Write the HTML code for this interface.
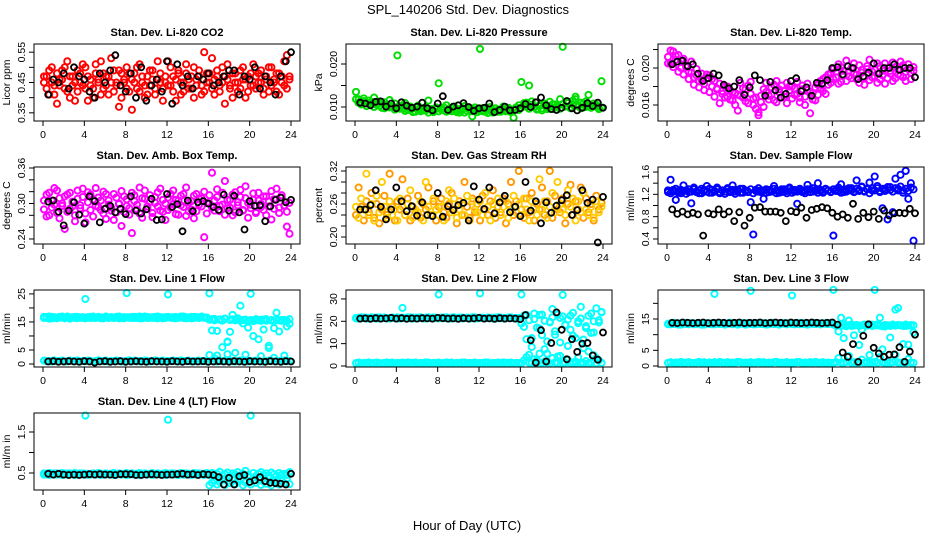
<!DOCTYPE html>
<html><head><meta charset="utf-8"><style>
html,body{margin:0;padding:0;background:#fff;}
svg{display:block;font-family:"Liberation Sans",Arial,sans-serif;}
</style></head><body>
<svg id="chart" width="936" height="540" viewBox="0 0 936 540">
<text x="468" y="14" text-anchor="middle" font-size="13">SPL_140206  Std. Dev. Diagnostics</text>
<text x="467" y="530" text-anchor="middle" font-size="13">Hour of Day (UTC)</text>
</svg>
<script>
// ---- data arrays ----
const co2Red1=[0.45,0.47,0.41,0.50,0.44,0.38,0.46,0.49,0.43,0.52,0.40,0.47,0.45,0.42,0.48,0.44,0.50,0.39,0.46,0.43,0.51,0.45,0.41,0.48,0.44,0.47,0.53,0.42,0.45,0.49,0.40,0.46,0.43,0.48,0.36,0.45,0.50,0.42,0.47,0.44,0.41,0.49,0.46,0.43,0.52,0.45,0.39,0.47,0.44,0.50,0.42,0.46,0.48,0.41,0.45,0.51,0.43,0.47,0.40,0.46,0.49,0.44,0.42,0.48,0.45,0.53,0.41,0.47,0.44,0.50,0.38,0.46,0.43,0.48,0.45,0.42,0.49,0.46,0.40,0.47,0.44,0.51,0.43,0.48,0.45,0.41,0.47,0.50,0.44,0.46,0.42,0.48,0.45,0.52,0.43,0.47];
const co2Red2=[0.47,0.43,0.49,0.45,0.41,0.48,0.44,0.46,0.50,0.42,0.47,0.44,0.39,0.49,0.45,0.51,0.43,0.47,0.44,0.40,0.48,0.46,0.52,0.43,0.47,0.41,0.45,0.49,0.44,0.37,0.48,0.45,0.50,0.42,0.46,0.48,0.43,0.51,0.45,0.40,0.47,0.44,0.49,0.41,0.46,0.48,0.43,0.45,0.52,0.44,0.47,0.39,0.49,0.45,0.42,0.48,0.46,0.43,0.50,0.44,0.47,0.41,0.55,0.45,0.48,0.43,0.46,0.49,0.42,0.45,0.47,0.51,0.44,0.40,0.48,0.45,0.43,0.50,0.46,0.42,0.48,0.44,0.47,0.45,0.49,0.43,0.46,0.42,0.50,0.45,0.48,0.41,0.47,0.44,0.54,0.46];
const co2Black=[0.41,0.46,0.45,0.48,0.43,0.50,0.47,0.46,0.42,0.40,0.48,0.45,0.49,0.54,0.44,0.42,0.48,0.40,0.50,0.39,0.44,0.46,0.42,0.52,0.38,0.51,0.44,0.47,0.43,0.47,0.46,0.48,0.44,0.45,0.47,0.49,0.49,0.41,0.47,0.46,0.50,0.43,0.47,0.45,0.41,0.47,0.52,0.55];
const presGreen=[0.0135,0.0118,0.0112,0.0120,0.0108,0.0115,0.0110,0.0122,0.0105,0.0113,0.0098,0.0111,0.0104,0.0116,0.0100,0.0108,0.0220,0.0102,0.0096,0.0109,0.0093,0.0101,0.0097,0.0089,0.0103,0.0095,0.0092,0.0100,0.0115,0.0094,0.0088,0.0099,0.0155,0.0098,0.0092,0.0104,0.0096,0.0090,0.0101,0.0093,0.0087,0.0097,0.0102,0.0091,0.0095,0.0078,0.0099,0.0093,0.0235,0.0090,0.0096,0.0086,0.0100,0.0092,0.0097,0.0089,0.0094,0.0101,0.0090,0.0096,0.0088,0.0075,0.0098,0.0093,0.0158,0.0105,0.0110,0.0150,0.0113,0.0101,0.0096,0.0104,0.0092,0.0108,0.0099,0.0112,0.0095,0.0106,0.0101,0.0118,0.0240,0.0102,0.0109,0.0097,0.0115,0.0124,0.0104,0.0110,0.0099,0.0113,0.0128,0.0101,0.0108,0.0105,0.0097,0.0160];
const presGreen2=[0.0118,0.0110,0.0106,0.0114,0.0102,0.0109,0.0112,0.0100,0.0107,0.0103,0.0110,0.0097,0.0105,0.0099,0.0102,0.0094,0.0100,0.0096,0.0104,0.0091,0.0098,0.0094,0.0088,0.0099,0.0093,0.0090,0.0097,0.0092,0.0087,0.0095,0.0091,0.0096,0.0090,0.0094,0.0099,0.0089,0.0093,0.0097,0.0091,0.0088,0.0095,0.0092,0.0087,0.0098,0.0093,0.0090,0.0094,0.0088,0.0092,0.0097,0.0089,0.0094,0.0091,0.0087,0.0096,0.0093,0.0089,0.0095,0.0092,0.0098,0.0090,0.0094,0.0099,0.0104,0.0098,0.0109,0.0101,0.0096,0.0105,0.0099,0.0094,0.0102,0.0097,0.0103,0.0095,0.0100,0.0106,0.0098,0.0104,0.0096,0.0107,0.0101,0.0112,0.0099,0.0105,0.0118,0.0102,0.0097,0.0108,0.0100,0.0106,0.0098,0.0103,0.0101,0.0095,0.0099];
const presBlack=[0.0110,0.0108,0.0104,0.0112,0.0113,0.0101,0.0108,0.0097,0.0111,0.0103,0.0098,0.0101,0.0110,0.0097,0.0092,0.0108,0.0125,0.0093,0.0101,0.0104,0.0109,0.0100,0.0091,0.0097,0.0098,0.0108,0.0088,0.0093,0.0101,0.0092,0.0093,0.0097,0.0107,0.0100,0.0111,0.0122,0.0104,0.0095,0.0093,0.0098,0.0114,0.0097,0.0092,0.0098,0.0109,0.0102,0.0110,0.0098];
const tempMag1=[0.0212,0.0205,0.0218,0.0209,0.0214,0.0200,0.0210,0.0203,0.0196,0.0207,0.0190,0.0199,0.0186,0.0194,0.0183,0.0189,0.0192,0.0180,0.0186,0.0177,0.0183,0.0172,0.0180,0.0169,0.0176,0.0165,0.0173,0.0154,0.0170,0.0178,0.0164,0.0181,0.0172,0.0160,0.0168,0.0152,0.0163,0.0177,0.0184,0.0170,0.0179,0.0165,0.0186,0.0174,0.0181,0.0169,0.0184,0.0176,0.0180,0.0171,0.0185,0.0168,0.0177,0.0160,0.0183,0.0174,0.0166,0.0179,0.0171,0.0186,0.0175,0.0190,0.0182,0.0195,0.0188,0.0196,0.0183,0.0201,0.0192,0.0186,0.0197,0.0189,0.0205,0.0193,0.0184,0.0198,0.0190,0.0202,0.0187,0.0196,0.0191,0.0205,0.0188,0.0197,0.0183,0.0200,0.0194,0.0206,0.0189,0.0198,0.0192,0.0203,0.0186,0.0199,0.0195,0.0201];
const tempMag2=[0.0205,0.0219,0.0201,0.0213,0.0196,0.0208,0.0193,0.0201,0.0188,0.0195,0.0182,0.0192,0.0179,0.0187,0.0176,0.0193,0.0174,0.0188,0.0169,0.0178,0.0162,0.0175,0.0168,0.0180,0.0166,0.0174,0.0160,0.0171,0.0184,0.0168,0.0177,0.0162,0.0185,0.0167,0.0156,0.0149,0.0170,0.0158,0.0174,0.0166,0.0171,0.0182,0.0163,0.0177,0.0168,0.0175,0.0162,0.0180,0.0167,0.0178,0.0172,0.0163,0.0181,0.0169,0.0176,0.0151,0.0173,0.0165,0.0182,0.0178,0.0188,0.0172,0.0193,0.0184,0.0199,0.0190,0.0204,0.0185,0.0197,0.0208,0.0191,0.0200,0.0194,0.0188,0.0203,0.0195,0.0182,0.0199,0.0209,0.0190,0.0198,0.0184,0.0202,0.0192,0.0205,0.0189,0.0197,0.0186,0.0201,0.0193,0.0207,0.0190,0.0196,0.0204,0.0188,0.0197];
const tempBlack=[0.0204,0.0207,0.0208,0.0202,0.0204,0.0194,0.0186,0.0189,0.0194,0.0192,0.0182,0.0178,0.0180,0.0187,0.0171,0.0179,0.0192,0.0187,0.0170,0.0185,0.0176,0.0168,0.0172,0.0186,0.0189,0.0175,0.0179,0.0170,0.0184,0.0183,0.0187,0.0200,0.0201,0.0193,0.0202,0.0200,0.0188,0.0191,0.0195,0.0205,0.0194,0.0200,0.0200,0.0204,0.0198,0.0200,0.0200,0.0190];
const ambMag1=[0.290,0.315,0.280,0.305,0.298,0.322,0.275,0.300,0.312,0.286,0.318,0.295,0.270,0.308,0.292,0.325,0.283,0.302,0.315,0.278,0.296,0.310,0.289,0.320,0.274,0.305,0.293,0.316,0.285,0.300,0.262,0.312,0.296,0.281,0.318,0.304,0.290,0.327,0.276,0.308,0.295,0.314,0.284,0.301,0.319,0.288,0.306,0.272,0.310,0.293,0.322,0.282,0.305,0.297,0.316,0.279,0.302,0.290,0.313,0.287,0.308,0.295,0.320,0.283,0.300,0.352,0.288,0.311,0.296,0.318,0.281,0.306,0.293,0.315,0.285,0.302,0.323,0.289,0.309,0.276,0.298,0.317,0.286,0.305,0.294,0.312,0.280,0.303,0.321,0.291,0.307,0.284,0.314,0.296,0.261,0.301];
const ambMag2=[0.305,0.278,0.318,0.293,0.326,0.284,0.309,0.296,0.257,0.315,0.291,0.303,0.280,0.322,0.297,0.311,0.268,0.319,0.289,0.307,0.326,0.294,0.305,0.283,0.316,0.298,0.288,0.272,0.310,0.299,0.321,0.286,0.307,0.292,0.250,0.314,0.298,0.283,0.309,0.322,0.291,0.303,0.277,0.311,0.295,0.325,0.286,0.300,0.289,0.316,0.299,0.306,0.281,0.313,0.294,0.327,0.287,0.304,0.275,0.316,0.298,0.309,0.243,0.301,0.314,0.293,0.305,0.324,0.287,0.298,0.338,0.292,0.306,0.280,0.319,0.297,0.311,0.288,0.329,0.301,0.292,0.306,0.284,0.318,0.299,0.289,0.312,0.295,0.273,0.307,0.325,0.293,0.310,0.297,0.286,0.249];
const ambBlack=[0.303,0.305,0.286,0.263,0.288,0.302,0.281,0.266,0.312,0.304,0.268,0.291,0.296,0.285,0.291,0.282,0.312,0.288,0.283,0.290,0.308,0.272,0.273,0.316,0.294,0.299,0.253,0.305,0.287,0.302,0.304,0.300,0.294,0.289,0.315,0.288,0.313,0.285,0.256,0.304,0.296,0.297,0.270,0.295,0.306,0.310,0.302,0.306];
const rhOrange1=[0.240,0.290,0.255,0.230,0.265,0.245,0.280,0.235,0.260,0.225,0.250,0.275,0.240,0.315,0.255,0.230,0.265,0.250,0.305,0.240,0.270,0.230,0.255,0.245,0.275,0.235,0.260,0.250,0.290,0.240,0.265,0.230,0.255,0.270,0.245,0.235,0.260,0.280,0.250,0.225,0.265,0.240,0.300,0.255,0.235,0.270,0.245,0.260,0.230,0.275,0.250,0.240,0.265,0.285,0.235,0.255,0.245,0.270,0.225,0.260,0.300,0.240,0.265,0.320,0.250,0.235,0.270,0.245,0.280,0.230,0.260,0.250,0.290,0.240,0.265,0.320,0.235,0.275,0.250,0.245,0.270,0.225,0.260,0.295,0.240,0.265,0.250,0.290,0.235,0.270,0.245,0.260,0.230,0.275,0.250,0.262];
const rhOrange2=[0.255,0.235,0.270,0.250,0.315,0.240,0.260,0.230,0.275,0.245,0.300,0.255,0.235,0.265,0.240,0.250,0.230,0.270,0.255,0.240,0.260,0.285,0.235,0.250,0.245,0.265,0.230,0.300,0.255,0.240,0.270,0.250,0.240,0.255,0.230,0.265,0.285,0.245,0.270,0.235,0.250,0.260,0.240,0.275,0.230,0.265,0.250,0.245,0.265,0.240,0.280,0.255,0.230,0.260,0.245,0.270,0.240,0.255,0.265,0.235,0.250,0.275,0.245,0.260,0.240,0.270,0.250,0.230,0.265,0.255,0.240,0.305,0.250,0.265,0.235,0.255,0.280,0.245,0.300,0.260,0.250,0.240,0.285,0.255,0.270,0.230,0.265,0.245,0.280,0.250,0.240,0.255,0.235,0.265,0.245,0.255];
const rhBlack=[0.250,0.250,0.258,0.285,0.255,0.232,0.250,0.290,0.265,0.247,0.256,0.239,0.263,0.240,0.238,0.280,0.237,0.256,0.249,0.258,0.262,0.230,0.292,0.268,0.251,0.290,0.243,0.263,0.275,0.245,0.255,0.238,0.300,0.248,0.265,0.225,0.263,0.244,0.257,0.267,0.276,0.240,0.249,0.285,0.262,0.268,0.190,0.273];
const flowBlue1=[1.24,1.46,1.28,1.10,1.26,1.22,1.36,1.27,1.24,1.04,1.29,1.25,1.22,1.30,1.26,1.35,1.23,1.28,1.25,1.32,1.24,1.27,1.21,1.29,1.26,1.36,1.25,1.28,1.23,1.30,1.26,1.24,1.06,0.48,1.28,1.25,1.27,1.12,1.29,1.24,1.26,1.35,1.27,1.23,1.29,1.26,1.22,1.30,1.27,1.25,1.03,1.28,1.24,1.26,1.37,1.29,1.25,1.27,1.40,1.26,1.23,1.29,1.27,1.25,0.46,1.28,1.26,1.38,1.24,1.29,1.27,1.31,1.25,1.45,1.28,1.34,1.26,1.30,1.41,1.27,1.52,1.31,1.26,0.95,1.29,0.75,1.33,0.88,1.48,1.30,1.55,1.27,1.62,1.12,1.40,0.37];
const flowBlue2=[1.27,1.22,1.25,1.30,1.23,1.28,1.26,1.21,1.29,1.25,1.32,1.24,1.27,1.22,1.28,1.25,1.30,1.23,1.26,1.29,1.22,1.27,1.25,1.31,1.24,1.28,1.21,1.26,1.30,1.23,1.27,1.25,1.29,1.22,1.26,1.31,1.24,1.27,1.23,1.28,1.25,1.30,1.22,1.27,1.24,1.29,1.26,1.32,1.23,1.28,1.25,1.30,1.27,1.22,1.29,1.24,1.31,1.26,1.23,1.28,1.25,1.30,1.27,1.24,1.29,1.26,1.32,1.23,1.28,1.25,1.31,1.27,1.24,1.30,1.26,1.33,1.25,1.29,1.22,1.31,1.27,1.35,1.24,1.30,1.26,1.33,1.28,1.25,1.31,1.27,1.34,1.23,1.30,1.26,1.32,1.29];
const flowBlack=[0.93,0.85,0.89,0.84,0.87,0.84,0.46,0.86,0.84,0.93,0.84,0.89,0.72,0.88,0.64,0.78,0.96,0.97,0.89,0.89,0.89,0.87,0.72,0.90,0.88,0.96,0.78,0.92,0.94,0.97,0.95,0.87,0.80,0.84,0.78,1.03,0.76,0.87,0.79,0.89,0.76,0.91,0.82,0.86,0.87,0.86,0.94,0.86];
const line1Hi=[16.8,16.5,16.9,16.3,16.7,16.4,16.8,16.6,16.3,16.9,16.5,16.7,16.4,16.8,16.6,16.5,23.2,16.7,16.4,16.9,16.5,16.8,16.3,16.6,16.9,16.4,16.7,16.5,16.8,16.3,16.6,16.7,25.3,16.5,16.8,16.4,16.7,16.9,16.3,16.6,16.8,16.5,16.7,16.4,16.9,16.6,16.3,16.7,24.8,16.6,16.4,16.8,16.5,16.7,16.9,16.3,16.6,16.8,16.4,16.7,16.5,16.9,16.6,16.4,25.2,12.0,16.1,3.0,15.8,6.0,16.2,8.0,11.5,15.9,4.0,16.3,20.8,15.7,3.3,13.0,25.0,10.0,15.6,8.8,15.8,12.3,16.0,5.7,15.5,12.8,18.3,11.6,15.7,3.0,13.4,14.3];
const line1Hi2=[16.4,16.7,16.2,16.8,16.5,16.3,16.6,16.9,16.4,16.7,16.2,16.6,16.8,16.4,16.5,16.7,16.3,16.6,16.8,16.5,16.4,16.7,16.6,16.3,16.8,16.5,16.7,16.4,16.6,16.9,16.5,16.3,16.7,16.6,16.4,16.8,16.5,16.3,16.7,16.9,16.4,16.6,16.5,16.8,16.3,16.7,16.6,16.4,16.8,16.5,16.7,16.3,16.6,16.9,16.4,16.7,16.5,16.3,16.8,16.6,16.4,16.7,16.5,16.6,15.8,16.0,15.6,11.8,15.9,15.5,16.1,7.8,15.7,17.5,15.6,16.0,15.4,14.5,15.8,15.5,15.7,15.3,16.0,15.6,15.4,15.8,15.5,6.5,15.7,15.2,15.9,15.6,15.4,15.7,15.5,16.0];
const line1Lo=[1.2,1.0,1.1,0.9,1.3,1.0,1.1,1.2,0.9,1.0,1.2,1.1,1.0,1.3,0.9,1.1,1.0,1.2,1.1,0.9,1.0,1.3,1.1,1.0,1.2,0.9,1.1,1.0,1.2,1.1,0.9,1.0,1.1,1.3,1.0,1.2,0.9,1.1,1.0,1.2,1.1,0.9,1.0,1.3,1.1,1.0,1.2,0.9,1.1,1.0,1.2,1.1,0.9,1.3,1.0,1.1,1.2,0.9,1.0,1.1,1.2,1.0,1.1,0.9,3.2,1.1,2.0,0.9,1.2,1.0,1.1,3.5,1.2,1.0,0.9,1.1,1.3,1.0,1.2,0.9,1.1,1.0,1.2,1.1,2.8,0.9,1.0,1.2,1.1,2.2,1.0,1.1,0.9,1.2,1.0,1.1];
const line1Black=[0.9,1.0,0.8,0.9,1.0,0.9,0.8,1.0,0.9,0.5,0.9,1.0,0.8,0.9,1.0,0.8,0.9,1.0,0.9,0.8,1.0,0.9,0.9,0.8,1.0,0.9,0.8,1.0,0.9,0.9,1.0,0.8,0.9,1.0,0.9,0.8,1.0,0.9,0.8,1.0,0.9,0.9,0.8,1.0,0.9,0.8,1.0,0.9];
const line2Hi=[21.5,21.2,21.8,21.4,21.6,21.3,21.7,21.5,21.2,21.8,21.4,21.6,21.3,21.5,21.7,21.4,21.6,21.2,26.0,21.5,21.8,21.3,21.6,21.4,21.7,21.5,21.2,21.6,21.8,21.4,21.3,21.6,32.0,21.5,21.7,21.4,21.2,21.6,21.8,21.3,21.5,21.7,21.4,21.6,21.2,21.5,21.8,21.3,32.5,21.6,21.4,21.7,21.5,21.2,21.6,21.8,21.4,21.3,21.5,21.7,21.6,21.4,21.2,21.5,32.0,17.5,22.8,5.0,12.5,21.0,2.5,16.8,23.0,7.5,11.0,19.5,25.5,14.0,4.2,21.5,31.8,18.2,9.0,22.5,13.5,2.0,20.0,26.5,11.8,17.0,6.5,23.5,15.0,3.5,20.5,24.0];
const line2Hi2=[21.3,21.6,21.4,21.7,21.2,21.5,21.8,21.4,21.6,21.3,21.5,21.7,21.4,21.2,21.6,21.5,21.8,21.3,21.6,21.4,21.5,21.7,21.2,21.6,21.4,21.8,21.5,21.3,21.6,21.4,21.7,21.5,21.3,21.6,21.4,21.8,21.5,21.2,21.6,21.4,21.7,21.3,21.5,21.6,21.4,21.8,21.2,21.5,21.6,21.4,21.3,21.7,21.5,21.6,21.2,21.4,21.7,21.5,21.3,21.6,21.8,21.4,21.5,21.3,19.0,22.5,12.0,20.5,8.5,23.5,17.2,22.8,13.8,20.2,5.5,19.8,21.8,15.5,23.0,10.5,22.2,18.5,20.8,16.2,23.8,12.5,19.2,21.2,8.0,17.8,22.5,14.8,20.0,25.8,19.5,24.2];
const line2Lo=[1.3,1.5,1.2,1.4,1.3,1.6,1.2,1.4,1.5,1.3,1.2,1.4,1.6,1.3,1.5,1.2,1.4,1.3,1.5,1.2,1.6,1.4,1.3,1.5,1.2,1.4,1.3,1.6,1.5,1.2,1.4,1.3,1.5,1.2,1.4,1.6,1.3,1.5,1.2,1.4,1.3,1.5,1.6,1.2,1.4,1.3,1.5,1.2,1.4,1.3,1.6,1.5,1.2,1.4,1.3,1.5,1.2,1.6,1.4,1.3,1.5,1.2,1.4,1.3,1.2,2.5,4.0,1.5,1.3,3.0,1.2,5.5,1.4,2.0,1.3,1.2,3.5,1.5,1.3,4.5,1.2,1.4,2.8,1.3,1.5,1.2,3.8,1.4,1.3,2.2,1.2,1.5,4.8,1.3,2.5,1.4];
const line2Black=[21.2,21.3,21.1,21.4,21.2,21.3,21.5,21.2,21.4,21.1,21.3,21.2,21.4,21.3,21.2,21.5,21.4,21.2,21.3,21.1,21.4,21.2,21.3,21.5,21.2,21.3,21.1,21.4,21.2,21.3,21.2,21.0,22.8,11.5,1.5,16.0,2.0,10.3,24.0,16.2,3.0,12.0,6.3,10.0,10.3,4.7,2.8,15.0];
const line3Hi=[13.5,13.3,13.7,13.4,13.6,13.2,13.5,13.8,13.4,13.6,13.3,13.5,13.7,13.4,13.2,13.6,13.5,13.3,23.0,13.7,13.4,13.6,13.3,13.5,13.8,13.4,13.6,13.2,13.5,13.7,13.4,13.6,24.0,13.3,13.5,13.7,13.4,13.6,13.2,13.5,13.8,13.4,13.6,13.3,13.5,13.7,13.4,13.6,22.5,13.3,13.5,13.7,13.4,13.6,13.2,13.5,13.8,13.4,13.6,13.3,13.5,13.7,13.4,13.6,24.3,13.0,11.0,15.4,8.9,13.0,14.5,12.8,9.8,13.1,6.7,11.6,13.0,12.9,3.5,13.2,24.3,13.0,15.4,5.3,12.6,13.0,9.1,13.0,18.0,18.5,13.0,7.0,12.8,6.8,13.0,10.7];
const line3Hi2=[13.3,13.6,13.4,13.7,13.2,13.5,13.6,13.4,13.3,13.7,13.5,13.4,13.6,13.2,13.5,13.7,13.4,13.6,13.3,13.5,13.7,13.4,13.2,13.6,13.5,13.3,13.7,13.4,13.6,13.5,13.2,13.7,13.4,13.6,13.3,13.5,13.8,13.4,13.6,13.3,13.5,13.4,13.7,13.2,13.6,13.5,13.3,13.7,13.4,13.6,13.5,13.3,13.7,13.4,13.2,13.6,13.5,13.4,13.7,13.3,13.6,13.5,13.4,13.7,13.2,12.9,13.1,12.8,13.3,12.7,13.0,13.2,12.9,13.1,12.8,13.0,13.2,12.9,13.1,12.8,13.0,13.2,12.9,12.7,13.1,13.0,12.8,13.2,12.9,13.1,13.0,12.8,13.2,12.9,13.1,13.0];
const line3Lo=[1.0,1.2,0.9,1.1,1.0,1.3,0.9,1.1,1.2,1.0,0.9,1.1,1.3,1.0,1.2,0.9,1.1,1.0,1.2,0.9,1.3,1.1,1.0,1.2,0.9,1.1,1.0,1.3,1.2,0.9,1.1,1.0,1.2,0.9,1.1,1.3,1.0,1.2,0.9,1.1,1.0,1.2,1.3,0.9,1.1,1.0,1.2,0.9,1.1,1.0,1.3,1.2,0.9,1.1,1.0,1.2,0.9,1.3,1.1,1.0,1.2,0.9,1.1,1.0,1.0,1.2,2.5,1.1,0.9,1.3,3.2,1.0,1.2,0.9,1.1,2.0,1.0,1.2,0.9,1.1,1.3,1.0,2.8,1.2,0.9,1.1,1.0,1.2,3.5,1.1,0.9,1.2,1.0,2.2,1.1,1.0];
const line3Black=[13.8,13.7,13.9,13.8,13.7,13.8,13.9,13.7,13.8,13.9,13.8,13.7,13.8,13.9,13.7,13.8,13.8,13.9,13.7,13.8,13.9,13.8,13.7,13.9,13.8,13.7,13.8,13.9,13.8,13.7,13.8,13.9,13.2,4.3,2.9,7.0,1.3,9.6,13.3,5.8,4.0,2.9,3.6,3.7,6.0,1.3,4.6,10.0];
const line4Hi=[0.49,0.47,0.50,0.48,0.46,0.49,0.47,0.50,0.48,0.46,0.49,0.47,0.50,0.48,0.47,0.49,1.90,0.48,0.46,0.49,0.47,0.50,0.48,0.46,0.49,0.47,0.48,0.50,0.46,0.49,0.47,0.48,0.50,0.46,0.49,0.47,0.48,0.50,0.46,0.49,0.47,0.48,0.50,0.46,0.49,0.47,0.48,0.50,1.80,0.46,0.49,0.47,0.48,0.50,0.46,0.49,0.47,0.48,0.50,0.46,0.49,0.47,0.48,0.50,0.45,0.50,0.42,0.48,0.53,0.44,0.47,0.51,0.43,0.49,0.46,0.52,0.44,0.48,0.55,0.45,1.90,0.50,0.43,0.48,0.52,0.45,0.49,0.44,0.51,0.47,0.43,0.50,0.46,0.48,0.45,0.52];
const line4Lo=[0.46,0.48,0.45,0.47,0.49,0.46,0.48,0.45,0.47,0.49,0.46,0.48,0.45,0.47,0.49,0.46,0.48,0.45,0.47,0.49,0.46,0.48,0.45,0.47,0.49,0.46,0.48,0.45,0.47,0.49,0.46,0.48,0.45,0.47,0.49,0.46,0.48,0.45,0.47,0.49,0.46,0.48,0.45,0.47,0.49,0.46,0.48,0.45,0.47,0.49,0.46,0.48,0.45,0.47,0.49,0.46,0.48,0.45,0.47,0.49,0.46,0.48,0.45,0.47,0.20,0.26,0.32,0.22,0.28,0.36,0.21,0.30,0.25,0.38,0.23,0.29,0.34,0.20,0.27,0.40,0.22,0.31,0.26,0.35,0.21,0.29,0.24,0.37,0.20,0.28,0.33,0.22,0.30,0.25,0.36,0.23];
const line4Black=[0.48,0.46,0.48,0.46,0.45,0.46,0.45,0.46,0.47,0.46,0.47,0.46,0.46,0.45,0.47,0.47,0.47,0.45,0.45,0.46,0.47,0.46,0.45,0.46,0.46,0.47,0.48,0.46,0.47,0.45,0.47,0.46,0.45,0.40,0.22,0.38,0.22,0.42,0.45,0.28,0.32,0.40,0.30,0.26,0.25,0.24,0.22,0.48];
const xTicks=[0,4,8,12,16,20,24];

// ---- layout ----
const colX0=[43,355,667], colX24=[291,603,915];
const rowTop=[44,167,290,413], rowBot=[121,244,367,490];
const NS='http://www.w3.org/2000/svg';
const svg=document.getElementById('chart');
function mk(tag,attrs,parent){const e=document.createElementNS(NS,tag);for(const k in attrs)e.setAttribute(k,attrs[k]);(parent||svg).appendChild(e);return e;}
const panels=[
 {name:'co2',title:'Stan. Dev. Li-820 CO2',ylab:'Licor ppm',c:0,r:0,y0:0.323,y1:0.577,ticks:[0.35,0.40,0.45,0.50,0.55],labs:[0.35,0.45,0.55],dig:2,ser:[[co2Red1,'#ff0000'],[co2Red2,'#ff0000']],blk:co2Black},
 {name:'pressure',title:'Stan. Dev. Li-820 Pressure',ylab:'kPa',c:1,r:0,y0:0.00674,y1:0.02465,ticks:[0.010,0.015,0.020],labs:[0.010,0.020],dig:3,ser:[[presGreen,'#00dd00'],[presGreen2,'#00dd00']],blk:presBlack},
 {name:'li820-temp',title:'Stan. Dev. Li-820 Temp.',ylab:'degrees C',c:2,r:0,y0:0.01427,y1:0.0226,ticks:[0.016,0.018,0.020,0.022],labs:[0.016,0.020],dig:3,ser:[[tempMag1,'#ff00ff'],[tempMag2,'#ff00ff']],blk:tempBlack},
 {name:'amb-box-temp',title:'Stan. Dev. Amb. Box Temp.',ylab:'degrees C',c:0,r:1,y0:0.2315,y1:0.3617,ticks:[0.24,0.26,0.28,0.30,0.32,0.34,0.36],labs:[0.24,0.30,0.36],dig:2,ser:[[ambMag1,'#ff00ff'],[ambMag2,'#ff00ff']],blk:ambBlack},
 {name:'gas-stream-rh',title:'Stan. Dev. Gas Stream RH',ylab:'percent',c:1,r:1,y0:0.1873,y1:0.3273,ticks:[0.20,0.22,0.24,0.26,0.28,0.30,0.32],labs:[0.20,0.26,0.32],dig:2,ser:[[rhOrange1,'#ff9900'],[rhOrange2,'#ffcc00']],blk:rhBlack},
 {name:'sample-flow',title:'Stan. Dev. Sample Flow',ylab:'ml/min',c:2,r:1,y0:0.31,y1:1.69,ticks:[0.4,0.6,0.8,1.0,1.2,1.4,1.6],labs:[0.4,0.8,1.2,1.6],dig:1,ser:[[flowBlue1,'#0000ff'],[flowBlue2,'#0000ff']],blk:flowBlack},
 {name:'line1-flow',title:'Stan. Dev. Line 1 Flow',ylab:'ml/min',c:0,r:2,y0:-1.07,y1:26.4,ticks:[0,5,10,15,20,25],labs:[0,5,15,25],dig:0,ser:[[line1Hi,'#00ffff'],[line1Hi2,'#00ffff'],[line1Lo,'#00ffff']],blk:line1Black},
 {name:'line2-flow',title:'Stan. Dev. Line 2 Flow',ylab:'ml/min',c:1,r:2,y0:-0.45,y1:34.0,ticks:[0,10,20,30],labs:[0,10,20,30],dig:0,ser:[[line2Hi,'#00ffff'],[line2Hi2,'#00ffff'],[line2Lo,'#00ffff']],blk:line2Black},
 {name:'line3-flow',title:'Stan. Dev. Line 3 Flow',ylab:'ml/min',c:2,r:2,y0:-0.32,y1:24.26,ticks:[0,5,10,15,20],labs:[0,5,15],dig:0,ser:[[line3Hi,'#00ffff'],[line3Hi2,'#00ffff'],[line3Lo,'#00ffff']],blk:line3Black},
 {name:'line4-flow',title:'Stan. Dev. Line 4 (LT) Flow',ylab:'ml/m in',c:0,r:3,y0:0.0854,y1:1.963,ticks:[0.5,1.0,1.5],labs:[0.5,1.5],dig:1,ser:[[line4Hi,'#00ffff'],[line4Lo,'#00ffff']],blk:line4Black}
];
panels.forEach(p=>{
  const g=mk('g',{});
  
  
  const X0=colX0[p.c],X24=colX24[p.c],T=rowTop[p.r],B=rowBot[p.r];
  const L=X0-9,R=X24+9;
  const xs=h=>X0+(X24-X0)*h/24;
  const ys=v=>B-(B-T)*(v-p.y0)/(p.y1-p.y0);
  const pts=mk('g',{fill:'none'},g);
  
  
  p.ser.forEach(([arr,col])=>{
    arr.forEach((v,i)=>{
      const c=mk('circle',{cx:xs(i*0.25+0.1).toFixed(1),cy:ys(v).toFixed(1),r:3.1,stroke:col,'stroke-width':1.9},pts);
      
      
    });
  });
  p.blk.forEach((v,i)=>{
    const c=mk('circle',{cx:xs(i*0.5+0.5).toFixed(1),cy:ys(v).toFixed(1),r:3,stroke:'#000','stroke-width':1.8},pts);
    
    
  });
  const fr=mk('rect',{x:L,y:T,width:R-L,height:B-T,fill:'none',stroke:'#000','stroke-width':1},g);
  
  
  const t=mk('text',{x:(L+R)/2,y:T-8,'text-anchor':'middle','font-size':11,'font-weight':'bold'},g);
  t.textContent=p.title;
  
  
  xTicks.forEach(h=>{
    mk('line',{x1:xs(h),x2:xs(h),y1:B,y2:B+5,stroke:'#000'},g);
    const tl=mk('text',{x:xs(h),y:B+17,'text-anchor':'middle','font-size':10.5},g);
    tl.textContent=h;
    
    
  });
  p.ticks.forEach(v=>{
    mk('line',{x1:L-5,x2:L,y1:ys(v),y2:ys(v),stroke:'#000'},g);
  });
  p.labs.forEach(v=>{
    const y=ys(v), x=L-9;
    const tl=mk('text',{x:x,y:y,'text-anchor':'middle','font-size':10.5,transform:`rotate(-90 ${x} ${y})`},g);
    tl.textContent=v.toFixed(p.dig);
    
    
  });
  const yx=L-24, yy=(T+B)/2;
  const yl=mk('text',{x:yx,y:yy,'text-anchor':'middle','font-size':10.5,transform:`rotate(-90 ${yx} ${yy})`},g);
  yl.textContent=p.ylab;
  
  
});
</script>
</body></html>
